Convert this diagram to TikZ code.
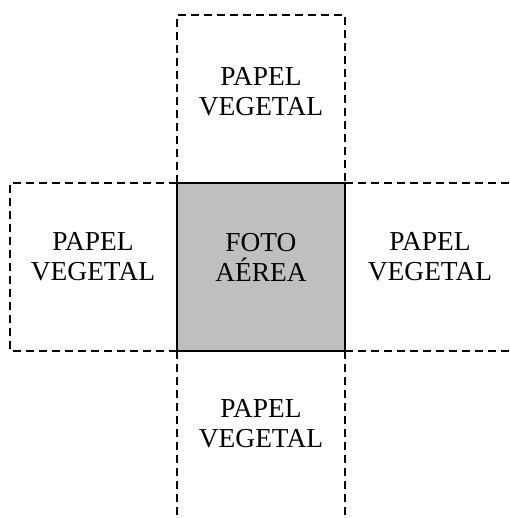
\documentclass[tikz,border=0pt]{standalone}
\usepackage{fontspec}
\setmainfont{Liberation Serif}
\begin{document}
\begin{tikzpicture}[x=1bp,y=-1bp,
  texto/.style={align=center,font=\fontsize{27.5}{30}\selectfont,inner sep=0pt},
  corte/.style={dash pattern=on 8bp off 5bp,line width=1.3bp}]
\useasboundingbox (0,0) rectangle (510,518);
%% foto aerea en el centro
\coordinate (fa) at (177,183);
\coordinate (fb) at (345,351);
\fill[black!25] (fa) rectangle (fb);
%% papel vegetal: arriba, izquierda, derecha, abajo
\draw[corte] (177,183) -- (177,15) -- (345,15) -- (345,183);
\draw[corte] (177,183) -- (10,183) -- (10,351) -- (177,351);
\draw[corte] (345,183) -- (510,183);
\draw[corte] (345,351) -- (510,351);
\draw[corte] (177,351) -- (177,518);
\draw[corte] (345,351) -- (345,518);
\draw[line width=1.5bp] (fa) rectangle (fb);
%% textos
\node[texto] (foto) at (261,257) {FOTO\\AÉREA};
\node[texto] (arriba) at (261,92) {PAPEL\\VEGETAL};
\node[texto] (izq) at (93,257) {PAPEL\\VEGETAL};
\node[texto] (der) at (430,257) {PAPEL\\VEGETAL};
\node[texto] (abajo) at (261,424) {PAPEL\\VEGETAL};
\end{tikzpicture}
\end{document}
